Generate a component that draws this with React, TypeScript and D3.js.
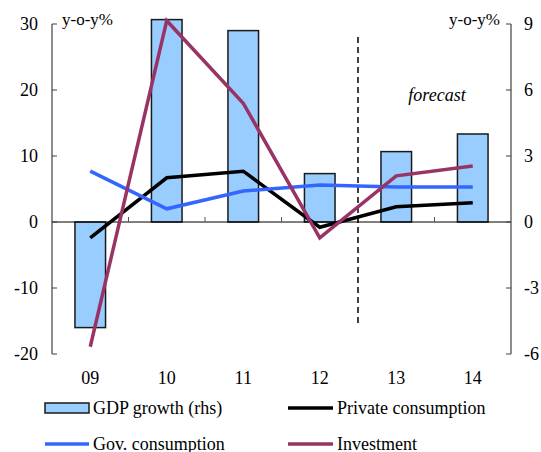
import React from "react";
import * as d3 from "d3";

const categories = ["09", "10", "11", "12", "13", "14"];
const gdpGrowth = [-4.8, 9.2, 8.7, 2.2, 3.2, 4.0];
const privateConsumption = [-2.4, 6.7, 7.7, -0.8, 2.3, 2.9];
const govConsumption = [7.7, 2.0, 4.7, 5.6, 5.3, 5.3];
const investment = [-18.9, 30.5, 18.0, -2.4, 7.0, 8.5];
const leftTicks = [-20, -10, 0, 10, 20, 30];
const rightTicks = [-6, -3, 0, 3, 6, 9];

const W = 541, H = 452;
const L = 52, R = 511, T = 24, B = 354;
const font = "'Liberation Serif', 'Times New Roman', serif";

export default function App() {
  const x = d3.scaleBand<string>().domain(categories).range([L, R]).padding(0);
  const yL = d3.scaleLinear().domain([-20, 30]).range([B, T]);
  const yR = d3.scaleLinear().domain([-6, 9]).range([B, T]);
  const cx = (c: string) => (x(c) as number) + x.bandwidth() / 2;
  const bw = x.bandwidth() * 0.4;
  const line = d3.line<number>().x((_, i) => cx(categories[i])).y((d) => yL(d));
  const y0 = yL(0);

  const series = [
    { data: privateConsumption, color: "#000000" },
    { data: govConsumption, color: "#3366FF" },
    { data: investment, color: "#993366" },
  ];

  return (
    <svg width={W} height={H} style={{ position: "absolute", left: 0, top: 0 }}>
      <rect width={W} height={H} fill="#fff" />
      {categories.map((c, i) => {
        const v = gdpGrowth[i];
        const yv = yR(v);
        const yz = yR(0);
        return (
          <rect key={c} x={cx(c) - bw / 2} y={Math.min(yv, yz)} width={bw}
            height={Math.abs(yz - yv)} fill="#99CCFF" stroke="#1a1a1a" strokeWidth={1.5} />
        );
      })}
      <line x1={L} x2={R} y1={y0} y2={y0} stroke="#000" strokeWidth={1} />
      {categories.slice(1).map((c) => (
        <line key={"t" + c} x1={x(c) as number} x2={x(c) as number} y1={y0} y2={y0 - 5} stroke="#555" strokeWidth={1} />
      ))}
      <line x1={x("13") as number} x2={x("13") as number} y1={37} y2={325} stroke="#000" strokeWidth={1.5} strokeDasharray="6,4" />
      <text x={437} y={101} textAnchor="middle" fontFamily={font} fontSize={18} fontStyle="italic">forecast</text>
      {series.map((s, k) => (
        <path key={k} d={line(s.data) || ""} fill="none" stroke={s.color} strokeWidth={3.5} strokeLinejoin="miter" />
      ))}
      <line x1={L} x2={L} y1={T} y2={B} stroke="#404040" strokeWidth={1.2} />
      {leftTicks.map((t) => (
        <g key={"l" + t}>
          <line x1={L} x2={L + 5} y1={yL(t)} y2={yL(t)} stroke="#404040" />
          <text x={38} y={yL(t) + 6} textAnchor="end" fontFamily={font} fontSize={18}>{t}</text>
        </g>
      ))}
      <line x1={R} x2={R} y1={T} y2={B} stroke="#404040" strokeWidth={1.2} />
      {rightTicks.map((t) => (
        <g key={"r" + t}>
          <line x1={R - 5} x2={R} y1={yR(t)} y2={yR(t)} stroke="#404040" />
          <text x={524} y={yR(t) + 6} textAnchor="start" fontFamily={font} fontSize={18}>{t}</text>
        </g>
      ))}
      <text x={62} y={25} fontFamily={font} fontSize={17}>y-o-y%</text>
      <text x={500} y={25} textAnchor="end" fontFamily={font} fontSize={17}>y-o-y%</text>
      {categories.map((c) => (
        <text key={"x" + c} x={cx(c)} y={384} textAnchor="middle" fontFamily={font} fontSize={18}>{c}</text>
      ))}
      <rect x={45} y={403} width={44} height={10} fill="#99CCFF" stroke="#1a1a1a" strokeWidth={1.5} />
      <text x={93} y={414} fontFamily={font} fontSize={18}>GDP growth (rhs)</text>
      <line x1={288} x2={333} y1={408} y2={408} stroke="#000" strokeWidth={3.5} />
      <text x={337} y={414} fontFamily={font} fontSize={18}>Private consumption</text>
      <line x1={45} x2={89} y1={444} y2={444} stroke="#3366FF" strokeWidth={3.5} />
      <text x={93} y={450} fontFamily={font} fontSize={18}>Gov. consumption</text>
      <line x1={288} x2={333} y1={444} y2={444} stroke="#993366" strokeWidth={3.5} />
      <text x={337} y={450} fontFamily={font} fontSize={18}>Investment</text>
    </svg>
  );
}
